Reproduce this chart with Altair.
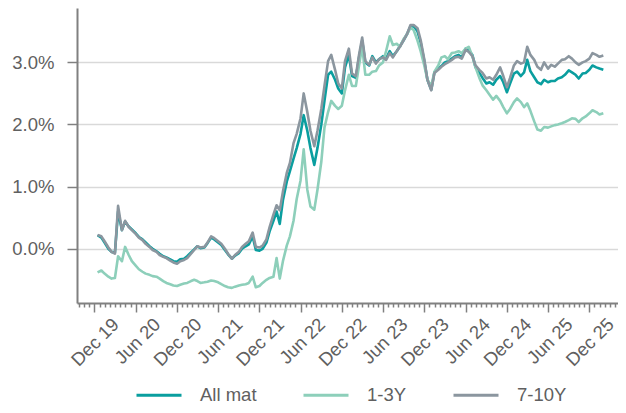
import altair as alt
import pandas as pd

# semi-monthly observation dates (1st / 15th), Dec 2019 .. Feb 2026
dates = [d.strftime("%Y-%m-%d") for d in pd.date_range("2019-12-15", periods=148, freq="SMS")]

all_mat = [
    0.22, 0.18, 0.10, 0.00, -0.05, -0.06, 0.60, 0.30, 0.44, 0.36,
    0.31, 0.25, 0.19, 0.15, 0.10, 0.04, 0.00, -0.04, -0.08, -0.12,
    -0.14, -0.17, -0.20, -0.21, -0.17, -0.16, -0.12, -0.06, -0.01, 0.04,
    0.01, 0.02, 0.09, 0.18, 0.15, 0.10, 0.06, -0.02, -0.09, -0.16,
    -0.11, -0.07, 0.00, 0.04, 0.07, 0.20, -0.02, -0.03, 0.00, 0.10,
    0.28, 0.45, 0.60, 0.40, 0.78, 1.08, 1.25, 1.45, 1.62, 1.85,
    2.15, 1.90, 1.62, 1.35, 1.62, 2.00, 2.38, 2.80, 2.85, 2.72,
    2.58, 2.50, 2.92, 3.12, 2.78, 2.75, 3.08, 3.35, 3.00, 2.95,
    3.10, 3.00, 3.05, 3.10, 3.06, 3.18, 3.10, 3.18, 3.26, 3.36,
    3.45, 3.58, 3.58, 3.50, 3.32, 3.02, 2.72, 2.56, 2.84, 2.90,
    2.94, 3.00, 3.02, 3.06, 3.10, 3.12, 3.08, 3.22, 3.20, 3.12,
    2.92, 2.83, 2.75, 2.66, 2.68, 2.64, 2.72, 2.78, 2.68, 2.52,
    2.66, 2.82, 2.85, 2.78, 2.84, 3.04, 2.86, 2.76, 2.68, 2.65,
    2.72, 2.68, 2.70, 2.70, 2.74, 2.76, 2.80, 2.87, 2.84, 2.80,
    2.74, 2.82, 2.83, 2.88, 2.95, 2.92, 2.90, 2.88,
]

y1_3 = [
    -0.38, -0.35, -0.40, -0.45, -0.48, -0.47, -0.12, -0.20, 0.03, -0.10,
    -0.20, -0.27, -0.33, -0.37, -0.40, -0.42, -0.44, -0.45, -0.48, -0.52,
    -0.55, -0.57, -0.59, -0.60, -0.58, -0.56, -0.55, -0.52, -0.50, -0.52,
    -0.55, -0.54, -0.53, -0.51, -0.52, -0.54, -0.57, -0.60, -0.62, -0.63,
    -0.61, -0.59, -0.58, -0.57, -0.55, -0.45, -0.62, -0.60, -0.55, -0.50,
    -0.47, -0.45, -0.15, -0.48, -0.20, 0.05, 0.20, 0.45, 0.80, 1.10,
    1.60, 0.95, 0.68, 0.63, 0.95, 1.40, 1.95, 2.20, 2.38, 2.30,
    2.25, 2.30, 2.55, 2.80, 2.62, 2.62, 2.95, 3.25, 2.80, 2.80,
    2.85, 2.86, 2.95, 3.00, 3.18, 3.42, 3.28, 3.30, 3.25, 3.38,
    3.45, 3.56, 3.52, 3.35, 3.18, 2.95, 2.72, 2.62, 2.85, 2.95,
    3.08, 3.10, 3.05, 3.15, 3.16, 3.18, 3.15, 3.22, 3.25, 3.10,
    2.92, 2.75, 2.63, 2.55, 2.48, 2.40, 2.46, 2.38, 2.28, 2.18,
    2.25, 2.36, 2.42, 2.36, 2.28, 2.34, 2.22, 2.05, 1.92, 1.90,
    1.96, 1.95, 1.97, 1.99, 2.00, 2.02, 2.04, 2.07, 2.10, 2.09,
    2.04, 2.10, 2.13, 2.18, 2.23, 2.20, 2.16, 2.18,
]

y7_10 = [
    0.22, 0.20, 0.12, 0.02, -0.05, -0.08, 0.69, 0.30, 0.45, 0.35,
    0.30, 0.24, 0.18, 0.14, 0.08, 0.03, -0.02, -0.05, -0.10, -0.13,
    -0.15, -0.19, -0.22, -0.24, -0.20, -0.18, -0.15, -0.08, -0.02, 0.04,
    0.02, 0.03, 0.10, 0.20, 0.17, 0.12, 0.08, 0.00, -0.08, -0.16,
    -0.10, -0.05, 0.03, 0.08, 0.12, 0.26, 0.03, 0.02, 0.05, 0.15,
    0.35, 0.55, 0.70, 0.62, 0.92, 1.22, 1.38, 1.70, 1.85, 2.10,
    2.50, 2.20, 1.90, 1.65, 1.90, 2.25, 2.62, 3.02, 3.12, 2.88,
    2.66, 2.58, 3.02, 3.22, 2.82, 2.78, 3.12, 3.40, 3.02, 2.96,
    3.08, 2.98, 3.05, 3.08, 3.04, 3.15, 3.08, 3.18, 3.25, 3.36,
    3.45, 3.60, 3.60, 3.55, 3.36, 3.05, 2.72, 2.55, 2.83, 2.88,
    2.93, 2.97, 3.00, 3.04, 3.08, 3.09, 3.06, 3.20, 3.17, 3.10,
    2.95, 2.88, 2.83, 2.74, 2.76, 2.72, 2.80, 2.92, 2.78, 2.60,
    2.75, 2.95, 3.02, 2.98, 3.00, 3.25, 3.12, 3.04, 2.93, 2.88,
    3.00, 2.90, 2.96, 2.93, 2.98, 3.04, 3.05, 3.10, 3.06, 3.00,
    2.96, 3.00, 3.02, 3.06, 3.15, 3.12, 3.09, 3.11,
]

series_names = ["All mat", "1-3Y", "7-10Y"]
series_colors = ["#0a9e9f", "#8dcfba", "#8b969f"]
y_ticks = [0, 1, 2, 3]

rows = []
for name, vals in zip(series_names, [all_mat, y1_3, y7_10]):
    for d, v in zip(dates, vals):
        rows.append({"date": d, "value": v, "series": name, "order": series_names.index(name)})
df = pd.DataFrame(rows)


def ms(s):
    return int(pd.Timestamp(s, tz="UTC").value // 10**6)


# axis ticks: major every 6 months (Dec/Jun), 8 sub-divisions between
majors = ["2019-06-01", "2019-12-01", "2020-06-01", "2020-12-01", "2021-06-01",
          "2021-12-01", "2022-06-01", "2022-12-01", "2023-06-01", "2023-12-01",
          "2024-06-01", "2024-12-01", "2025-06-01", "2025-12-01", "2026-06-01"]
x_lo, x_hi = ms("2019-09-15"), ms("2026-04-07")
tick_vals = []
for a, b in zip(majors[:-1], majors[1:]):
    a_ms, b_ms = ms(a), ms(b)
    for k in range(8):
        t = a_ms + (b_ms - a_ms) * k // 8
        if x_lo <= t <= x_hi:
            tick_vals.append(t)

is_major = ("utcdate(datum.value) == 1 && utchours(datum.value) == 0 && utcminutes(datum.value) == 0 "
            "&& (utcmonth(datum.value) == 11 || utcmonth(datum.value) == 5)")

axis_col = "#808080"
text_col = "#606060"
font = "Liberation Sans"

chart = alt.Chart(df).mark_line(strokeWidth=2.6, strokeJoin="round").encode(
    x=alt.X("date:T",
            scale=alt.Scale(type="utc", domain=[x_lo, x_hi], nice=False),
            axis=alt.Axis(values=tick_vals, title=None, grid=False,
                          labelExpr=f"({is_major}) ? utcFormat(datum.value, '%b %y') : ''",
                          tickSize={"condition": {"test": is_major, "value": 9}, "value": 4},
                          tickColor=axis_col, tickWidth=1.5,
                          domainColor=axis_col, domainWidth=2,
                          labelAngle=315, labelAlign="right", labelBaseline="middle",
                          labelPadding=9, labelOffset=21,
                          labelOverlap=False, labelFlush=False,
                          labelFont=font, labelFontSize=18.5, labelColor=text_col)),
    y=alt.Y("value:Q",
            scale=alt.Scale(domain=[-0.873, 3.875], nice=False, zero=False),
            axis=alt.Axis(values=y_ticks, title=None,
                          labelExpr="format(datum.value, '.1f') + '%'",
                          grid=True, gridColor="#d9d9d9", gridWidth=1.5,
                          tickSize=10, tickColor=axis_col, tickWidth=1.5,
                          domainColor=axis_col, domainWidth=2,
                          labelPadding=13, labelFont=font, labelFontSize=18.5,
                          labelColor=text_col)),
    color=alt.Color("series:N",
                    scale=alt.Scale(domain=series_names, range=series_colors),
                    legend=alt.Legend(title=None, orient="none", direction="horizontal",
                                      legendX=58, legendY=363, padding=0,
                                      symbolType="stroke", symbolSize=2025, symbolStrokeWidth=3,
                                      labelFont=font, labelFontSize=18.5, labelColor=text_col,
                                      labelOffset=17, columnPadding=40)),
    order=alt.Order("order:Q"),
    detail="series:N",
).properties(
    width=541, height=295,
    autosize=alt.AutoSizeParams(type="none"),
    padding={"left": 69, "top": 0, "right": 0, "bottom": 102},
).configure_view(stroke=None)

chart.save("out.html", embed_options={"renderer": "svg", "actions": False})
